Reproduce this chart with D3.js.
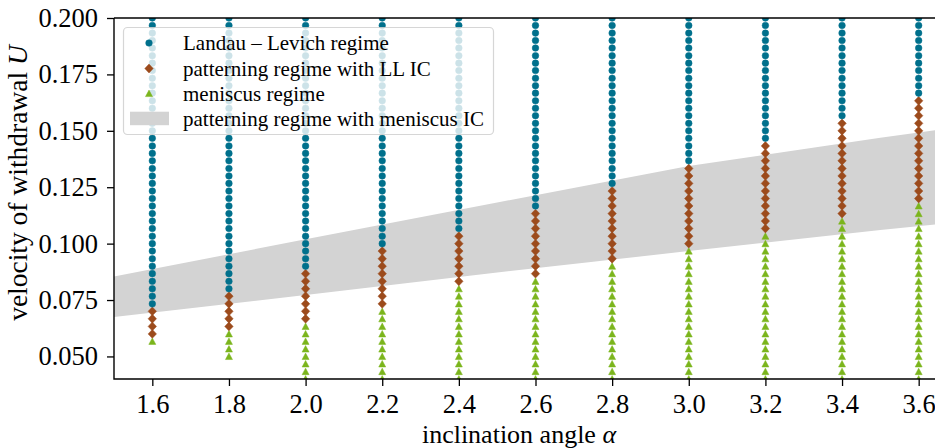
<!DOCTYPE html>
<html><head><meta charset="utf-8">
<script src="https://cdn.jsdelivr.net/npm/d3@7"></script>
<style>
body{margin:0;background:#fff}
svg{display:block}
text{font-family:"Liberation Serif","DejaVu Serif",serif;fill:#000}
</style>
</head><body>
<svg id="c" width="935" height="448"></svg>
<script>
// ---- data ----
const alphas = [1.6, 1.8, 2.0, 2.2, 2.4, 2.6, 2.8, 3.0, 3.2, 3.4, 3.6];
// sampled withdrawal velocities U
const uGrid = [0.0400,0.0433,0.0467,0.0500,0.0533,0.0567,0.0600,0.0633,0.0667,0.0700,
  0.0733,0.0767,0.0800,0.0833,0.0867,0.0900,0.0933,0.0967,0.1000,0.1033,
  0.1067,0.1100,0.1133,0.1167,0.1200,0.1233,0.1267,0.1300,0.1333,0.1367,
  0.1400,0.1433,0.1467,0.1500,0.1533,0.1567,0.1600,0.1633,0.1667,0.1700,
  0.1733,0.1767,0.1800,0.1833,0.1867,0.1900,0.1933,0.1967,0.2000];
// lowest sampled U per alpha (meniscus regime starts here)
const meniscusMin = [0.0567,0.0500,0.0400,0.0400,0.0400,0.0400,0.0400,0.0400,0.0400,0.0400,0.0400];
// lowest U of patterning regime with LL IC
const patternMin  = [0.0600,0.0633,0.0667,0.0733,0.0833,0.0867,0.0933,0.1000,0.1067,0.1133,0.1200];
// lowest U of Landau-Levich regime
const llMin       = [0.0733,0.0800,0.0900,0.1000,0.1067,0.1167,0.1267,0.1367,0.1467,0.1567,0.1667];
// patterning regime with meniscus IC (band)
const bandAlpha = [1.5, 2.0, 2.5, 3.0, 3.5, 3.7];
const bandLower = [0.0675, 0.0772, 0.0872, 0.0967, 0.1060, 0.1095];
const bandUpper = [0.0854, 0.1019, 0.1182, 0.1344, 0.1469, 0.1516];
const xTicks = [1.6,1.8,2.0,2.2,2.4,2.6,2.8,3.0,3.2,3.4,3.6];
const yTicks = [0.050,0.075,0.100,0.125,0.150,0.175,0.200];
const legendLabels = ["Landau \u2013 Levich regime","patterning regime with LL IC","meniscus regime","patterning regime with meniscus IC"];

// ---- style ----
const C_LL = "#00708c", C_PAT = "#9c4b1c", C_MEN = "#7bb51c", C_BAND = "#d3d3d3";
const svg = d3.select("#c");
const L = 114, R = 957, T = 18, B = 379;
const x = d3.scaleLinear().domain([1.5, 3.7]).range([L, R]);
const y = d3.scaleLinear().domain([0.04, 0.2]).range([B, T]);

svg.append("defs").append("clipPath").attr("id","clip")
  .append("rect").attr("x",L).attr("y",T).attr("width",R-L).attr("height",B-T);

const plot = svg.append("g").attr("clip-path","url(#clip)");

// band
const area = d3.area().x((d,i)=>x(bandAlpha[i])).y0((d,i)=>y(bandLower[i])).y1((d,i)=>y(bandUpper[i]));
plot.append("path").datum(bandAlpha).attr("d", area).attr("fill", C_BAND);

// points
const pts = [];
alphas.forEach((a,i)=>{
  uGrid.forEach(u=>{
    if (u < meniscusMin[i] - 1e-9) return;
    let cls = u >= llMin[i]-1e-9 ? "ll" : (u >= patternMin[i]-1e-9 ? "pat" : "men");
    pts.push({a,u,cls});
  });
});
const circ = "M3.3,0A3.3,3.3 0 1,1 -3.3,0A3.3,3.3 0 1,1 3.3,0Z";
const diam = "M0,-4.4L4.2,0L0,4.4L-4.2,0Z";
const tri = "M0,-3.4L3.5,3.1L-3.5,3.1Z";
const shape = {ll:circ, pat:diam, men:tri};
const col = {ll:C_LL, pat:C_PAT, men:C_MEN};
plot.selectAll("path.pt").data(pts).join("path").attr("class","pt")
  .attr("transform", d=>`translate(${x(d.a)},${y(d.u)})`)
  .attr("d", d=>shape[d.cls]).attr("fill", d=>col[d.cls]).attr("stroke", d=>col[d.cls]).attr("stroke-width",0.5);

// axes
const fs = 26.5;
const xAxis = svg.append("g").attr("transform",`translate(0,${B})`)
  .call(d3.axisBottom(x).tickValues(xTicks).tickSize(7).tickPadding(8).tickFormat(d3.format(".1f")));
const yAxis = svg.append("g").attr("transform",`translate(${L},0)`)
  .call(d3.axisLeft(y).tickValues(yTicks).tickSize(7).tickPadding(9).tickFormat(d3.format(".3f")));
[xAxis,yAxis].forEach(g=>{
  g.select(".domain").remove();
  g.selectAll(".tick line").attr("stroke","#000").attr("stroke-width",1.3);
  g.selectAll(".tick text").style("font-family",'"Liberation Serif",serif').style("font-size",fs+"px").attr("fill","#000");
});
// spines
svg.append("path").attr("d",`M${L},${T}V${B}H${R}`).attr("fill","none").attr("stroke","#000").attr("stroke-width",1.4);
svg.append("path").attr("d",`M${L},${T}H${R}`).attr("fill","none").attr("stroke","#000").attr("stroke-width",1.4);

// axis labels
const xl = svg.append("text").attr("x", 519).attr("y", 443).attr("text-anchor","middle").style("font-size","26px");
xl.append("tspan").text("inclination angle ");
xl.append("tspan").style("font-style","italic").text("\u03b1");
const yl = svg.append("text").attr("transform","translate(27,183) rotate(-90)").attr("text-anchor","middle").style("font-size","27.5px");
yl.append("tspan").text("velocity of withdrawal ");
yl.append("tspan").style("font-style","italic").text("U");

// legend
const lg = svg.append("g");
lg.append("rect").attr("x",123.5).attr("y",27.5).attr("width",370).attr("height",107).attr("rx",4)
  .attr("fill","#fff").attr("fill-opacity",0.8).attr("stroke","#ccc").attr("stroke-opacity",0.8).attr("stroke-width",1.2);
const rowY = [43, 68.5, 93.5, 118.5];
const lshapes = ["ll","pat","men"];
lshapes.forEach((k,i)=>{
  lg.append("path").attr("d",shape[k]).attr("transform",`translate(149,${rowY[i]})`).attr("fill",col[k]).attr("stroke",col[k]).attr("stroke-width",0.5);
});
lg.append("rect").attr("x",130).attr("y",rowY[3]-6.8).attr("width",39).attr("height",13.5).attr("fill",C_BAND);
legendLabels.forEach((t,i)=>{
  lg.append("text").attr("x",183).attr("y",rowY[i]).attr("dy","0.35em").style("font-size","21px").text(t);
});
</script>
</body></html>
